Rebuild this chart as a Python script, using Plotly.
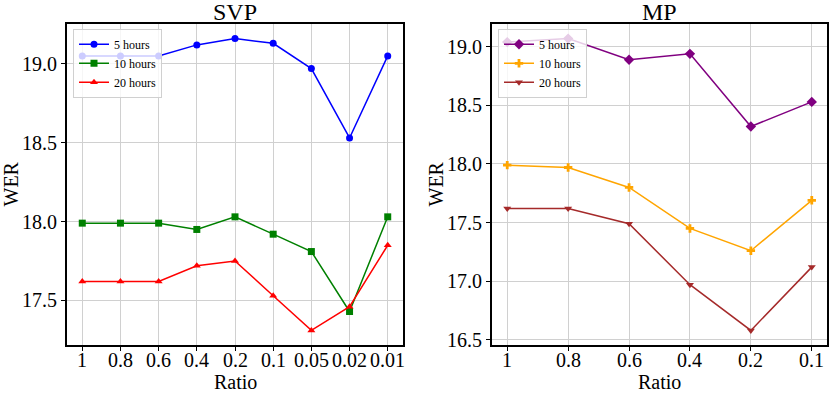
import plotly.graph_objects as go

# ---------------- data ----------------
svp_ratio = ['1', '0.8', '0.6', '0.4', '0.2', '0.1', '0.05', '0.02', '0.01']
svp_5h = [19.05, 19.05, 19.05, 19.12, 19.16, 19.13, 18.97, 18.53, 19.05]
svp_10h = [17.99, 17.99, 17.99, 17.95, 18.03, 17.92, 17.81, 17.43, 18.03]
svp_20h = [17.62, 17.62, 17.62, 17.72, 17.75, 17.53, 17.31, 17.46, 17.85]

mp_ratio = ['1', '0.8', '0.6', '0.4', '0.2', '0.1']
mp_5h = [19.04, 19.07, 18.89, 18.94, 18.32, 18.53]
mp_10h = [17.99, 17.97, 17.80, 17.45, 17.26, 17.69]
mp_20h = [17.62, 17.62, 17.49, 16.97, 16.58, 17.12]

labels = ['5 hours', '10 hours', '20 hours']

FONT = 'Liberation Serif'
W, H = 830, 394
PH = 394 - 24 - 49  # plot height in px

fig = go.Figure()

svp_sets = [(svp_5h, 'blue', 'circle'), (svp_10h, 'green', 'square'), (svp_20h, 'red', 'triangle-up')]
for (ys, col, sym), lab in zip(svp_sets, labels):
    fig.add_trace(go.Scatter(x=list(range(len(svp_ratio))), y=ys, name=lab, mode='lines+markers',
                             line=dict(color=col, width=1.5), marker=dict(color=col, symbol=sym, size=7),
                             xaxis='x', yaxis='y', legend='legend'))

mp_sets = [(mp_5h, 'purple', 'diamond', 8), (mp_10h, 'orange', 'cross', 7), (mp_20h, 'brown', 'triangle-down', 7)]
for (ys, col, sym, sz), lab in zip(mp_sets, labels):
    fig.add_trace(go.Scatter(x=list(range(len(mp_ratio))), y=ys, name=lab, mode='lines+markers',
                             line=dict(color=col, width=1.5), marker=dict(color=col, symbol=sym, size=sz),
                             xaxis='x2', yaxis='y2', legend='legend2'))

def xax(dom, ticks, anchor):
    n = len(ticks)
    pad = (n - 1) * 0.05
    return dict(domain=dom, anchor=anchor, range=[-pad, n - 1 + pad], automargin=False,
                tickmode='array', tickvals=list(range(n)), showticklabels=False,
                showline=True, linecolor='black', linewidth=2, mirror=True,
                ticks='outside', ticklen=4, tickcolor='black',
                showgrid=True, gridcolor='#d0d0d0', gridwidth=1, zeroline=False)

def yax(rng, tv, anchor):
    return dict(domain=[0, 1], anchor=anchor, range=rng, automargin=False,
                tickmode='array', tickvals=tv, ticktext=['%.1f' % v for v in tv],
                showline=True, linecolor='black', linewidth=2, mirror=True,
                ticks='outside', ticklen=4, tickcolor='black',
                showgrid=True, gridcolor='#d0d0d0', gridwidth=1, zeroline=False,
                tickfont=dict(family=FONT, size=20, color='black'))

leg = dict(bgcolor='rgba(255,255,255,0.8)', bordercolor='#d0d0d0', borderwidth=1,
           font=dict(family=FONT, size=12, color='black'), xanchor='left', yanchor='top',
           tracegroupgap=0, itemwidth=30)

def ann(text, x, y, size, xref='paper', angle=0):
    return dict(text=text, x=x, y=y, xref=xref, yref='paper', xanchor='center', yanchor='middle',
                showarrow=False, textangle=angle, font=dict(family=FONT, size=size, color='black'))

anns = [
    ann('SVP', (67 + 403) / 2 / W, 1 + 12 / PH, 24),
    ann('MP', (492 + 827) / 2 / W, 1 + 12 / PH, 24),
    ann('Ratio', (67 + 403) / 2 / W, -37 / PH, 20),
    ann('Ratio', (492 + 827) / 2 / W, -37 / PH, 20),
    ann('WER', 10 / W, 0.5, 20, angle=-90),
    ann('WER', 435 / W, 0.5, 20, angle=-90),
]
# x tick labels placed on the category axes
for i, t in enumerate(svp_ratio):
    anns.append(ann(t, i, -15 / PH, 20, xref='x'))
for i, t in enumerate(mp_ratio):
    anns.append(ann(t, i, -15 / PH, 20, xref='x2'))

fig.update_layout(
    width=W, height=H, margin=dict(l=0, r=0, t=24, b=49),
    paper_bgcolor='white', plot_bgcolor='white', showlegend=True,
    xaxis=xax([67 / W, 403 / W], svp_ratio, 'y'),
    yaxis=yax([17.2175, 19.2525], [17.5, 18.0, 18.5, 19.0], 'x'),
    xaxis2=xax([492 / W, 827 / W], mp_ratio, 'y2'),
    yaxis2=yax([16.4555, 19.1945], [16.5, 17.0, 17.5, 18.0, 18.5, 19.0], 'x2'),
    legend=dict(leg, x=73 / W, y=0.985),
    legend2=dict(leg, x=498 / W, y=0.985),
    annotations=anns,
)

fig.write_html("out.html", config={'displayModeBar': False},
               post_script="document.body.style.margin='0';document.body.style.overflow='hidden';")
